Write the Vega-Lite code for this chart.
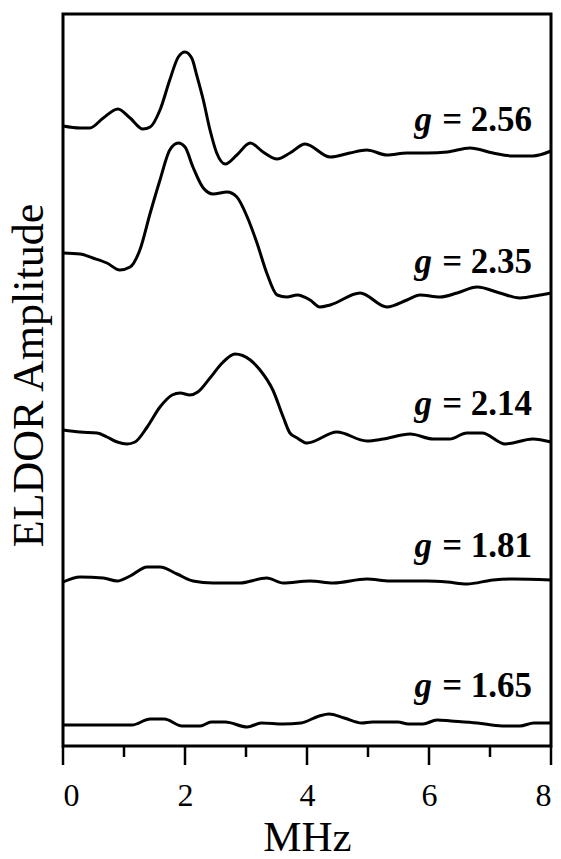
{
  "$schema": "https://vega.github.io/schema/vega-lite/v6.json",
  "width": 488,
  "height": 751,
  "autosize": {"type": "none"},
  "padding": {"left": 63, "top": 14, "right": 10, "bottom": 94},
  "background": "white",
  "config": {
    "view": {"stroke": null},
    "axis": {"grid": false, "domain": false, "labelColor": "black", "titleColor": "black", "labelFont": "Liberation Serif", "titleFont": "Liberation Serif", "titleFontWeight": "normal"}
  },
  "datasets": {
    "traces": [
      {"g":"2.56","MHz":0.00,"amp":620},{"g":"2.56","MHz":0.28,"amp":618},{"g":"2.56","MHz":0.44,"amp":618},{"g":"2.56","MHz":0.66,"amp":628},{"g":"2.56","MHz":0.90,"amp":637},{"g":"2.56","MHz":1.10,"amp":628},{"g":"2.56","MHz":1.31,"amp":617},{"g":"2.56","MHz":1.43,"amp":619},{"g":"2.56","MHz":1.59,"amp":636},{"g":"2.56","MHz":1.75,"amp":666},{"g":"2.56","MHz":1.89,"amp":689},{"g":"2.56","MHz":2.00,"amp":694},{"g":"2.56","MHz":2.11,"amp":688},{"g":"2.56","MHz":2.20,"amp":669},{"g":"2.56","MHz":2.30,"amp":646},{"g":"2.56","MHz":2.41,"amp":616},{"g":"2.56","MHz":2.52,"amp":593},{"g":"2.56","MHz":2.66,"amp":582},{"g":"2.56","MHz":2.85,"amp":591},{"g":"2.56","MHz":3.07,"amp":603},{"g":"2.56","MHz":3.28,"amp":594},{"g":"2.56","MHz":3.51,"amp":587},{"g":"2.56","MHz":3.72,"amp":593},{"g":"2.56","MHz":3.97,"amp":602},{"g":"2.56","MHz":4.38,"amp":589},{"g":"2.56","MHz":4.70,"amp":593},{"g":"2.56","MHz":4.98,"amp":596},{"g":"2.56","MHz":5.31,"amp":591},{"g":"2.56","MHz":5.64,"amp":593},{"g":"2.56","MHz":5.97,"amp":593},{"g":"2.56","MHz":6.30,"amp":594},{"g":"2.56","MHz":6.67,"amp":598},{"g":"2.56","MHz":7.05,"amp":593},{"g":"2.56","MHz":7.38,"amp":590},{"g":"2.56","MHz":7.70,"amp":590},{"g":"2.56","MHz":8.00,"amp":595},
      {"g":"2.35","MHz":0.00,"amp":493},{"g":"2.35","MHz":0.28,"amp":492},{"g":"2.35","MHz":0.49,"amp":488},{"g":"2.35","MHz":0.72,"amp":483},{"g":"2.35","MHz":0.93,"amp":476},{"g":"2.35","MHz":1.10,"amp":479},{"g":"2.35","MHz":1.26,"amp":496},{"g":"2.35","MHz":1.43,"amp":533},{"g":"2.35","MHz":1.59,"amp":566},{"g":"2.35","MHz":1.75,"amp":596},{"g":"2.35","MHz":1.89,"amp":603},{"g":"2.35","MHz":2.00,"amp":599},{"g":"2.35","MHz":2.13,"amp":579},{"g":"2.35","MHz":2.30,"amp":558},{"g":"2.35","MHz":2.46,"amp":552},{"g":"2.35","MHz":2.69,"amp":554},{"g":"2.35","MHz":2.85,"amp":549},{"g":"2.35","MHz":3.02,"amp":529},{"g":"2.35","MHz":3.18,"amp":503},{"g":"2.35","MHz":3.34,"amp":473},{"g":"2.35","MHz":3.51,"amp":451},{"g":"2.35","MHz":3.67,"amp":449},{"g":"2.35","MHz":3.84,"amp":451},{"g":"2.35","MHz":4.05,"amp":446},{"g":"2.35","MHz":4.21,"amp":439},{"g":"2.35","MHz":4.38,"amp":441},{"g":"2.35","MHz":4.87,"amp":453},{"g":"2.35","MHz":5.31,"amp":439},{"g":"2.35","MHz":5.64,"amp":446},{"g":"2.35","MHz":5.85,"amp":451},{"g":"2.35","MHz":6.18,"amp":449},{"g":"2.35","MHz":6.46,"amp":453},{"g":"2.35","MHz":6.79,"amp":459},{"g":"2.35","MHz":7.16,"amp":453},{"g":"2.35","MHz":7.49,"amp":448},{"g":"2.35","MHz":7.82,"amp":451},{"g":"2.35","MHz":8.00,"amp":453},
      {"g":"2.14","MHz":0.00,"amp":316},{"g":"2.14","MHz":0.28,"amp":314},{"g":"2.14","MHz":0.56,"amp":313},{"g":"2.14","MHz":0.72,"amp":309},{"g":"2.14","MHz":0.89,"amp":304},{"g":"2.14","MHz":1.05,"amp":302},{"g":"2.14","MHz":1.18,"amp":304},{"g":"2.14","MHz":1.38,"amp":319},{"g":"2.14","MHz":1.59,"amp":339},{"g":"2.14","MHz":1.79,"amp":351},{"g":"2.14","MHz":1.92,"amp":353},{"g":"2.14","MHz":2.08,"amp":351},{"g":"2.14","MHz":2.21,"amp":354},{"g":"2.14","MHz":2.41,"amp":368},{"g":"2.14","MHz":2.61,"amp":383},{"g":"2.14","MHz":2.82,"amp":392},{"g":"2.14","MHz":3.07,"amp":386},{"g":"2.14","MHz":3.23,"amp":376},{"g":"2.14","MHz":3.44,"amp":356},{"g":"2.14","MHz":3.61,"amp":329},{"g":"2.14","MHz":3.72,"amp":313},{"g":"2.14","MHz":3.84,"amp":308},{"g":"2.14","MHz":4.00,"amp":303},{"g":"2.14","MHz":4.49,"amp":314},{"g":"2.14","MHz":4.98,"amp":305},{"g":"2.14","MHz":5.25,"amp":307},{"g":"2.14","MHz":5.69,"amp":312},{"g":"2.14","MHz":6.07,"amp":307},{"g":"2.14","MHz":6.34,"amp":307},{"g":"2.14","MHz":6.62,"amp":313},{"g":"2.14","MHz":6.87,"amp":313},{"g":"2.14","MHz":7.25,"amp":302},{"g":"2.14","MHz":7.70,"amp":307},{"g":"2.14","MHz":8.00,"amp":304},
      {"g":"1.81","MHz":0.00,"amp":164},{"g":"1.81","MHz":0.28,"amp":169},{"g":"1.81","MHz":0.66,"amp":168},{"g":"1.81","MHz":0.89,"amp":165},{"g":"1.81","MHz":1.10,"amp":170},{"g":"1.81","MHz":1.38,"amp":179},{"g":"1.81","MHz":1.59,"amp":179},{"g":"1.81","MHz":1.87,"amp":172},{"g":"1.81","MHz":2.13,"amp":165},{"g":"1.81","MHz":2.46,"amp":163},{"g":"1.81","MHz":2.90,"amp":163},{"g":"1.81","MHz":3.34,"amp":168},{"g":"1.81","MHz":3.61,"amp":163},{"g":"1.81","MHz":4.05,"amp":165},{"g":"1.81","MHz":4.43,"amp":163},{"g":"1.81","MHz":4.98,"amp":167},{"g":"1.81","MHz":5.36,"amp":165},{"g":"1.81","MHz":5.97,"amp":165},{"g":"1.81","MHz":6.30,"amp":164},{"g":"1.81","MHz":6.62,"amp":162},{"g":"1.81","MHz":7.05,"amp":166},{"g":"1.81","MHz":7.38,"amp":167},{"g":"1.81","MHz":8.00,"amp":166},
      {"g":"1.65","MHz":0.00,"amp":21},{"g":"1.65","MHz":1.13,"amp":21},{"g":"1.65","MHz":1.43,"amp":27},{"g":"1.65","MHz":1.66,"amp":27},{"g":"1.65","MHz":1.95,"amp":20},{"g":"1.65","MHz":2.25,"amp":20},{"g":"1.65","MHz":2.43,"amp":24},{"g":"1.65","MHz":2.66,"amp":24},{"g":"1.65","MHz":3.02,"amp":19},{"g":"1.65","MHz":3.25,"amp":23},{"g":"1.65","MHz":3.61,"amp":22},{"g":"1.65","MHz":3.90,"amp":23},{"g":"1.65","MHz":4.20,"amp":30},{"g":"1.65","MHz":4.36,"amp":32},{"g":"1.65","MHz":4.61,"amp":28},{"g":"1.65","MHz":4.90,"amp":23},{"g":"1.65","MHz":5.07,"amp":24},{"g":"1.65","MHz":5.49,"amp":24},{"g":"1.65","MHz":5.66,"amp":22},{"g":"1.65","MHz":5.90,"amp":22},{"g":"1.65","MHz":6.13,"amp":26},{"g":"1.65","MHz":6.36,"amp":25},{"g":"1.65","MHz":6.79,"amp":23},{"g":"1.65","MHz":7.20,"amp":20},{"g":"1.65","MHz":7.49,"amp":20},{"g":"1.65","MHz":7.72,"amp":23},{"g":"1.65","MHz":8.00,"amp":23}
    ],
    "labels": [
      {"g":"2.56","txt":"= 2.56","ly":615},
      {"g":"2.35","txt":"= 2.35","ly":473},
      {"g":"2.14","txt":"= 2.14","ly":331},
      {"g":"1.81","txt":"= 1.81","ly":189},
      {"g":"1.65","txt":"= 1.65","ly":49}
    ],
    "majorTicks": [{"t":0},{"t":2},{"t":4},{"t":6},{"t":8}],
    "minorTicks": [{"t":1},{"t":3},{"t":5},{"t":7}],
    "frame": [{"name":"frame"}]
  },
  "layer": [
    {
      "data": {"name": "traces"},
      "mark": {"type": "line", "color": "black", "strokeWidth": 3, "interpolate": "monotone"},
      "encoding": {
        "x": {
          "field": "MHz", "type": "quantitative",
          "scale": {"domain": [0, 8], "nice": false, "zero": false},
          "axis": {
            "orient": "bottom",
            "title": "MHz", "titleFontSize": 43, "titleBaseline": "alphabetic", "titleY": 85,
            "values": [0, 2, 4, 6, 8], "format": "d",
            "labelFontSize": 32, "labelBaseline": "alphabetic", "labelPadding": 40,
            "ticks": false, "tickSize": 0
          }
        },
        "y": {
          "field": "amp", "type": "quantitative",
          "scale": {"domain": [-19, 732], "nice": false, "zero": false},
          "axis": {
            "title": "ELDOR Amplitude", "titleFontSize": 44, "ticks": false, "labels": false,
            "titleBaseline": "alphabetic", "titleX": -21, "titleY": 361, "titleAngle": 270
          }
        },
        "detail": {"field": "g", "type": "nominal"}
      }
    },
    {
      "data": {"name": "frame"},
      "mark": {"type": "rect", "fill": null, "fillOpacity": 0, "stroke": "black", "strokeWidth": 3},
      "encoding": {
        "x": {"datum": 0, "type": "quantitative", "title": "MHz"},
        "x2": {"datum": 8},
        "y": {"datum": 0, "type": "quantitative", "title": "ELDOR Amplitude"},
        "y2": {"datum": 732}
      }
    },
    {
      "data": {"name": "majorTicks"},
      "mark": {"type": "rule", "color": "black", "strokeWidth": 2.5},
      "encoding": {
        "x": {"field": "t", "type": "quantitative", "title": "MHz"},
        "y": {"datum": 0, "type": "quantitative", "title": "ELDOR Amplitude"},
        "y2": {"datum": -19}
      }
    },
    {
      "data": {"name": "minorTicks"},
      "mark": {"type": "rule", "color": "black", "strokeWidth": 2.5},
      "encoding": {
        "x": {"field": "t", "type": "quantitative", "title": "MHz"},
        "y": {"datum": 0, "type": "quantitative", "title": "ELDOR Amplitude"},
        "y2": {"datum": -11}
      }
    },
    {
      "data": {"name": "labels"},
      "mark": {"type": "text", "text": "g", "font": "Liberation Serif", "fontSize": 35, "fontWeight": "bold", "fontStyle": "italic", "align": "right", "baseline": "alphabetic", "color": "black"},
      "encoding": {
        "x": {"datum": 6.05, "type": "quantitative", "title": "MHz"},
        "y": {"field": "ly", "type": "quantitative", "title": "ELDOR Amplitude"}
      }
    },
    {
      "data": {"name": "labels"},
      "mark": {"type": "text", "font": "Liberation Serif", "fontSize": 35, "fontWeight": "bold", "align": "right", "baseline": "alphabetic", "color": "black"},
      "encoding": {
        "x": {"datum": 7.69, "type": "quantitative", "title": "MHz"},
        "y": {"field": "ly", "type": "quantitative", "title": "ELDOR Amplitude"},
        "text": {"field": "txt"}
      }
    }
  ]
}
